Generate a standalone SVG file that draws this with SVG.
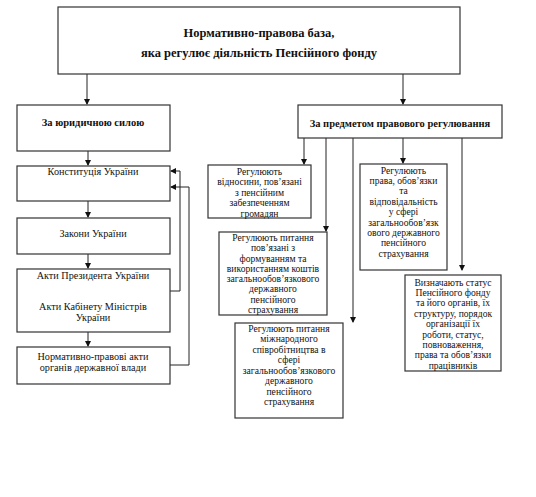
<svg xmlns="http://www.w3.org/2000/svg" width="536" height="497" viewBox="0 0 536 497">
<style>
.box{fill:#fff;stroke:#333;stroke-width:1.2}
.t{font-family:'Liberation Serif','Times New Roman',serif;font-size:9.6px;fill:#111;text-anchor:middle}
.l{font-size:10.2px}
.b{font-weight:bold}
.h{font-size:12.5px}
.m{font-size:10.5px}
.c{fill:none;stroke:#222;stroke-width:1}
</style>
<defs>
<marker id="ah" markerWidth="6" markerHeight="6" refX="5" refY="3" orient="auto" markerUnits="userSpaceOnUse">
<path d="M0,0 L6,3 L0,6 Z" fill="#111"/>
</marker>
</defs>
<rect width="536" height="497" fill="#fff"/>
<g id="connectors">
<path class="c" d="M87,74 V104" marker-end="url(#ah)"/>
<path class="c" d="M403,74 V104" marker-end="url(#ah)"/>
<path class="c" d="M88,151 V165" marker-end="url(#ah)"/>
<path class="c" d="M88,201 V217" marker-end="url(#ah)"/>
<path class="c" d="M88,254 V268" marker-end="url(#ah)"/>
<path class="c" d="M88,332 V346" marker-end="url(#ah)"/>
<path class="c" d="M170,291 H180 V171 H171" marker-end="url(#ah)"/>
<path class="c" d="M170,365 H189 V187 H171" marker-end="url(#ah)"/>
<path class="c" d="M304,138 V164" marker-end="url(#ah)"/>
<path class="c" d="M326,138 V231" marker-end="url(#ah)"/>
<path class="c" d="M353,138 V322" marker-end="url(#ah)"/>
<path class="c" d="M403,138 V163" marker-end="url(#ah)"/>
<path class="c" d="M462,138 V270" marker-end="url(#ah)"/>
</g>
<g id="top">
<rect class="box" x="58" y="7" width="402" height="67"/>
<text class="t b h" x="259" y="37">Нормативно-правова база,</text>
<text class="t b h" x="259" y="57">яка регулює діяльність Пенсійного фонду</text>
</g>
<g id="legal-force">
<rect class="box" x="17" y="105" width="153" height="46"/>
<text class="t b m" x="93" y="126">За юридичною силою</text>
</g>
<g id="constitution">
<rect class="box" x="17" y="166" width="153" height="35"/>
<text class="t l" x="93" y="175">Конституція України</text>
</g>
<g id="laws">
<rect class="box" x="17" y="218" width="153" height="36"/>
<text class="t l" x="93" y="237">Закони України</text>
</g>
<g id="acts">
<rect class="box" x="17" y="269" width="153" height="63"/>
<text class="t l" x="93" y="279">Акти Президента України</text>
<text class="t l" x="93" y="310">Акти Кабінету Міністрів</text>
<text class="t l" x="93" y="321">України</text>
</g>
<g id="normative">
<rect class="box" x="17" y="347" width="153" height="37"/>
<text class="t l" x="93" y="360">Нормативно-правові акти</text>
<text class="t l" x="93" y="370.8">органів державної влади</text>
</g>
<g id="subject">
<rect class="box" x="298" y="105" width="204" height="33"/>
<text class="t b m" x="400" y="127">За предметом правового регулювання</text>
</g>
<g id="b1">
<rect class="box" x="208" y="165" width="103" height="53"/>
<text class="t" x="259.5" y="174.5">Регулюють</text>
<text class="t" x="259.5" y="185.1">відносини, пов’язані</text>
<text class="t" x="259.5" y="195.7">з   пенсійним</text>
<text class="t" x="259.5" y="206.3">забезпеченням</text>
<text class="t" x="259.5" y="216.9">громадян</text>
</g>
<g id="b2">
<rect class="box" x="219" y="232" width="108" height="83"/>
<text class="t" x="273" y="241">Регулюють питання</text>
<text class="t" x="273" y="251">пов’язані з</text>
<text class="t" x="273" y="261.5">формуванням та</text>
<text class="t" x="273" y="271.8">використанням коштів</text>
<text class="t" x="273" y="282.1">загальнообов’язкового</text>
<text class="t" x="273" y="292.4">державного</text>
<text class="t" x="273" y="302.7">пенсійного</text>
<text class="t" x="273" y="313">страхування</text>
</g>
<g id="b3">
<rect class="box" x="360" y="164" width="87" height="106"/>
<text class="t" x="403.5" y="173.5">Регулюють</text>
<text class="t" x="403.5" y="183.9">права, обов’язки</text>
<text class="t" x="403.5" y="194.3">та</text>
<text class="t" x="403.5" y="204.7">відповідальність</text>
<text class="t" x="403.5" y="215.1">у сфері</text>
<text class="t" x="403.5" y="225.5">загальнообов’язк</text>
<text class="t" x="403.5" y="235.9">ового державного</text>
<text class="t" x="403.5" y="246.3">пенсійного</text>
<text class="t" x="403.5" y="256.7">страхування</text>
</g>
<g id="b4">
<rect class="box" x="235" y="323" width="108" height="95"/>
<text class="t" x="289" y="331.5">Регулюють питання</text>
<text class="t" x="289" y="342">міжнародного</text>
<text class="t" x="289" y="352.5">співробітництва в</text>
<text class="t" x="289" y="363">сфері</text>
<text class="t" x="289" y="373.5">загальнообов’язкового</text>
<text class="t" x="289" y="384">державного</text>
<text class="t" x="289" y="394.5">пенсійного</text>
<text class="t" x="289" y="405">страхування</text>
</g>
<g id="b5">
<rect class="box" x="405" y="275" width="96" height="96"/>
<text class="t" x="453" y="285.5">Визначають статус</text>
<text class="t" x="453" y="295.9">Пенсійного фонду</text>
<text class="t" x="453" y="306.3">та його органів, їх</text>
<text class="t" x="453" y="316.7">структуру, порядок</text>
<text class="t" x="453" y="327.1">організації їх</text>
<text class="t" x="453" y="337.5">роботи, статус,</text>
<text class="t" x="453" y="347.9">повноваження,</text>
<text class="t" x="453" y="358.3">права та обов’язки</text>
<text class="t" x="453" y="368.7">працівників</text>
</g>
</svg>
